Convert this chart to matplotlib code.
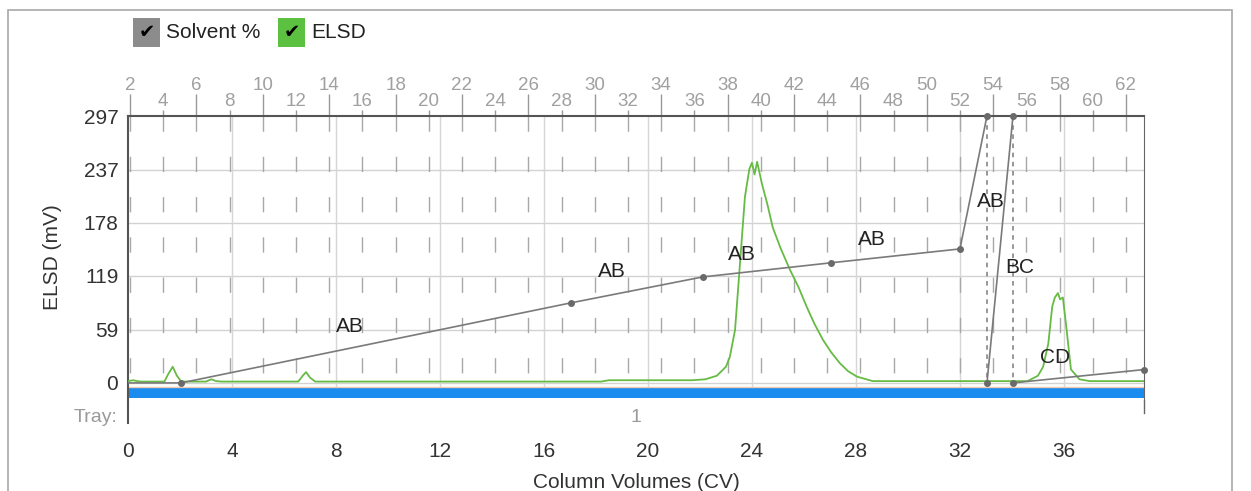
import matplotlib
matplotlib.use("Agg")
import matplotlib.pyplot as plt
from matplotlib.patches import Rectangle
from matplotlib.lines import Line2D

plt.rcParams['font.family'] = ['Liberation Sans', 'DejaVu Sans']

# ELSD trace (CV, mV)
elsd_cv = [0, 0.2, 0.35, 0.5, 1.4, 1.55, 1.72, 1.88, 2.05, 3.0, 3.2, 3.4, 3.6,
           6.55, 6.72, 6.85, 7.0, 7.2, 12, 18.2, 18.5, 21.0, 21.7, 22.2, 22.65,
           23.0, 23.15, 23.35, 23.54, 23.73, 23.9, 24.0, 24.1, 24.2, 24.38,
           24.6, 24.8, 25.1, 25.46, 25.8, 26.1, 26.4, 26.73, 27.05, 27.38,
           27.7, 28.04, 28.65, 29.5, 33.0, 34.6, 35.0, 35.2, 35.4, 35.55, 35.65,
           35.77, 35.85, 35.96, 36.1, 36.27, 36.6, 37.0, 39.1]
elsd_mv = [2, 3, 2, 1.5, 1.5, 10, 18, 8, 1.5, 1.5, 4, 2, 1.5,
           1.5, 8, 12, 6, 1.5, 1.5, 1.5, 3, 3, 3, 4, 8,
           18, 29, 59, 133, 207, 238, 245, 232, 246, 222,
           198, 173, 150, 126, 106, 85, 66, 48, 34, 22,
           13, 7, 2, 2, 2, 2, 8, 18, 44, 85, 95,
           100, 93, 95, 60, 15, 4, 2, 2]

# Solvent % gradient
grad_cv = [0, 2.04, 17.04, 22.1, 27.04, 32.0, 33.04]
grad_pct = [0, 0, 30, 39.7, 45, 50.2, 100]
step2_cv = [33.04, 34.04]
step2_pct = [0, 100]
step3_cv = [34.04, 39.08]
step3_pct = [0, 5]
drop_cv = [33.04, 34.04]
node_cv = [2.04, 17.04, 22.1, 27.04, 32.0, 33.04, 33.04, 34.04, 34.04, 39.08]
node_pct = [0, 30, 39.7, 45, 50.2, 100, 0, 100, 0, 5]

seg_labels = ['AB', 'AB', 'AB', 'AB', 'AB', 'BC', 'CD']
seg_label_cv = [8.54, 18.6, 23.6, 28.6, 33.2, 34.3, 35.65]
seg_label_pct = [21.3, 41.6, 48, 53.6, 67.8, 43.4, 9.4]

y_ticks = [0, 59, 119, 178, 237, 297]
x_ticks = [0, 4, 8, 12, 16, 20, 24, 28, 32, 36]
top_major = list(range(2, 63, 4))
top_minor = list(range(4, 61, 4))

W, H = 1251, 491
FS = 15
fig = plt.figure(figsize=(W / 100, H / 100), dpi=100)

# outer frame
fig.patches.append(Rectangle((8 / W, -0.1), (1232 - 8) / W, 1.1 - 10 / H,
                             transform=fig.transFigure, fill=False,
                             edgecolor='#a8a8a8', lw=1.2))

ax = fig.add_axes([128 / W, 1 - 400 / H, (1144 - 128) / W, (400 - 116) / H])
ymin = -19.0
ax.set_xlim(0, 39.08)
ax.set_ylim(ymin, 297)

# grid
for y in y_ticks[:-1]:
    ax.axhline(y, color='#d2d2d2', lw=1, zorder=0)
ax.vlines(x_ticks[1:], -5, 297, color='#d6d6d6', lw=1, zorder=0)


def cv_to_top(cv):
    return (cv * 26 - 2) / 16.6 + 2


def top_to_cv(t):
    return (2 + (t - 2) * 16.6) / 26


for t in range(2, 63, 2):
    ax.plot([top_to_cv(t)] * 2, [297, -5], color='#a8a8a8', lw=1,
            dashes=(11, 18), zorder=0.5)

# tray bar
ax.axhspan(-16.7, -5.6, color='#1a8cf0', lw=0, zorder=1)
ax.axhline(-4.2, color='#f0c8b0', lw=1, zorder=1)

ax.plot(elsd_cv, elsd_mv, color='#66bb44', lw=1.3, zorder=3)

# solvent on its own 0-100 scale
ax2 = ax.twinx()
ax2.set_ylim(ymin / 2.97, 100)
ax2.set_axis_off()
sc = '#7a7a7a'
ax2.plot(grad_cv, grad_pct, color=sc, lw=1.2, zorder=4)
ax2.plot(step2_cv, step2_pct, color=sc, lw=1.2, zorder=4)
ax2.plot(step3_cv, step3_pct, color=sc, lw=1.2, zorder=4)
for c in drop_cv:
    ax2.plot([c, c], [100, 0], color=sc, lw=1.1, ls=(0, (3, 3)), zorder=4)
ax2.plot(node_cv, node_pct, ls='none', marker='o', ms=4, color='#6a6a6a',
         zorder=5, clip_on=False)
for lab, c, p in zip(seg_labels, seg_label_cv, seg_label_pct):
    ax2.text(c, p, lab, fontsize=FS, color='#222222', ha='center',
             va='center', zorder=6)

# spines and ticks
for s in ['top', 'left']:
    ax.spines[s].set_color('#555555')
    ax.spines[s].set_linewidth(1.5)
ax.spines['right'].set_color('#666666')
ax.spines['bottom'].set_visible(False)
ax.set_yticks(y_ticks)
ax.set_xticks(x_ticks)
ax.tick_params(axis='y', length=0, pad=7, labelsize=FS, labelcolor='#333333')
ax.tick_params(axis='x', length=0, pad=30, labelsize=FS, labelcolor='#333333')
fig.text(53 / W, 1 - 257 / H, 'ELSD (mV)', rotation=90, ha='center',
         va='center', fontsize=FS, color='#333333')

# extend left/right spines below the tray bar
fig.add_artist(Line2D([128 / W, 128 / W], [1 - 400 / H, 1 - 423 / H],
                      color='#555555', lw=1.5))
fig.add_artist(Line2D([1144 / W, 1144 / W], [1 - 400 / H, 1 - 413 / H],
                      color='#666666', lw=1))

# top axis
sec = ax.secondary_xaxis('top', functions=(cv_to_top, top_to_cv))
sec.set_xticks(top_major)
sec.set_xticks(top_minor, minor=True)
sec.set_xticklabels([str(t) for t in top_major])
sec.set_xticklabels([str(t) for t in top_minor], minor=True)
sec.tick_params(axis='x', which='major', length=16, width=1, color='#999999',
                pad=0, labelsize=13.5, labelcolor='#a0a0a0')
sec.tick_params(axis='x', which='minor', length=4, width=1, color='#999999',
                pad=0, labelsize=13.5, labelcolor='#a0a0a0')
sec.spines['top'].set_visible(False)

# tray row
fig.text(118 / W, 1 - 417 / H, 'Tray:', ha='right', va='center',
         fontsize=14, color='#9a9a9a')
fig.text(636 / W, 1 - 417 / H, '1', ha='center', va='center',
         fontsize=14, color='#9a9a9a')
fig.text(636 / W, 1 - 482 / H, 'Column Volumes (CV)', ha='center',
         va='center', fontsize=FS, color='#333333')

# legend boxes
for x0, col, lab in [(133, '#8c8c8c', 'Solvent %'), (278, '#5cc040', 'ELSD')]:
    fig.patches.append(Rectangle((x0 / W, 1 - 47 / H), 27 / W, 29 / H,
                                 transform=fig.transFigure, color=col, lw=0))
    fig.text((x0 + 13.5) / W, 1 - 33 / H, '\u2714', ha='center',
             va='center', fontsize=14, color='black', family='DejaVu Sans')
    fig.text((x0 + 33) / W, 1 - 33 / H, lab, ha='left', va='center',
             fontsize=FS, color='#222222')

fig.savefig('out.png', dpi=100)
